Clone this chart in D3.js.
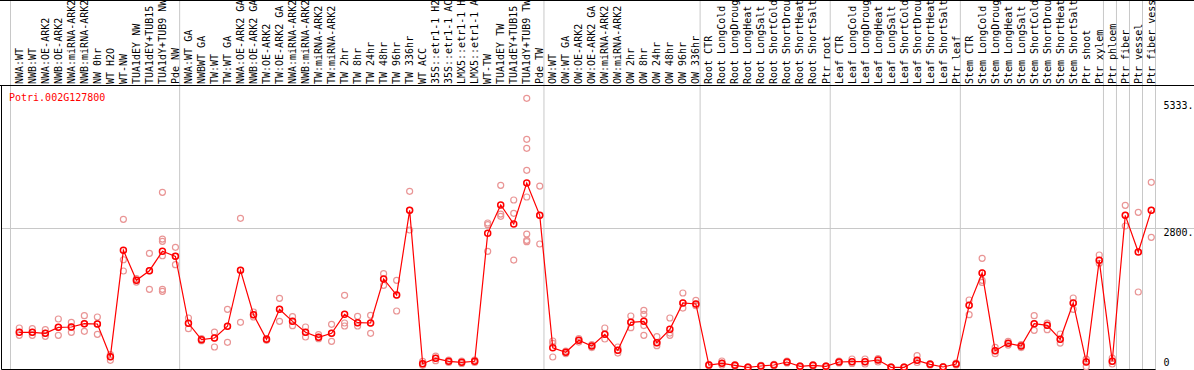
<!DOCTYPE html>
<html>
<head>
<meta charset="utf-8">
<script src="https://cdn.jsdelivr.net/npm/d3@7"></script>
<style>
  body { margin: 0; background: #fff; }
  svg { display: block; }
  text { font-family: "DejaVu Sans Mono", monospace; font-size: 10px; }
</style>
</head>
<body>
<div id="chart"></div>
<script>
var width = 1194, height = 370;

var geneName = 'Potri.002G127800';

// Sample labels, one per column (as far as they fit in the header).
var samples = [
  'NWA:WT', 'NWB:WT', 'NWA:OE-ARK2', 'NWB:OE-ARK2', 'NWA:miRNA-ARK2', 'NWB:miRNA-ARK2',
  'NW 0hr', 'WT H2O', 'WT-NW', 'TUA1dEY NW', 'TUA1dEY+TUB15', 'TUA1dY+TUB9 NW', 'Pde NW',
  'NWA:WT GA', 'NWBWT GA', 'TW:WT', 'TW:WT GA', 'NWA:OE-ARK2 GA', 'NWB:OE-ARK2 GA',
  'TW:OE-ARK2', 'TW:OE-ARK2 GA', 'NWA:miRNA-ARK2', 'NWB:miRNA-ARK2', 'TW:miRNA-ARK2',
  'TW:miRNA-ARK2', 'TW 2hr', 'TW 8hr', 'TW 24hr', 'TW 48hr', 'TW 96hr', 'TW 336hr',
  'WT ACC', '35S::etr1-1 H2', '35S::etr1-1 AC', 'LMX5::etr1-1 H', 'LMX5::etr1-1 A',
  'WT-TW', 'TUA1dEY TW', 'TUA1dEY+TUB15', 'TUA1dY+TUB9 TW', 'Pde TW',
  'OW:WT', 'OW:WT GA', 'OW:OE-ARK2', 'OW:OE-ARK2 GA', 'OW:miRNA-ARK2', 'OW:miRNA-ARK2',
  'OW 2hr', 'OW 8hr', 'OW 24hr', 'OW 48hr', 'OW 96hr', 'OW 336hr',
  'Root CTR', 'Root LongCold', 'Root LongDroug', 'Root LongHeat', 'Root LongSalt',
  'Root ShortCold', 'Root ShortDrou', 'Root ShortHeat', 'Root ShortSalt', 'Ptr root',
  'Leaf CTR', 'Leaf LongCold', 'Leaf LongDroug', 'Leaf LongHeat', 'Leaf LongSalt',
  'Leaf ShortCold', 'Leaf ShortDrou', 'Leaf ShortHeat', 'Leaf ShortSalt', 'Ptr leaf',
  'Stem CTR', 'Stem LongCold', 'Stem LongDroug', 'Stem LongHeat', 'Stem LongSalt',
  'Stem ShortCold', 'Stem ShortDrou', 'Stem ShortHeat', 'Stem ShortSalt', 'Ptr shoot',
  'Ptr xylem', 'Ptr phloem', 'Ptr fiber', 'Ptr vessel', 'Ptr fiber vess'
];

// First sample of each experiment group (a grey separator is drawn before each).
var groupStarts = ['NWA:WT', 'NWA:WT GA', 'OW:WT', 'Root CTR', 'Leaf CTR', 'Stem CTR',
  'Ptr phloem', 'Ptr fiber', 'Ptr vessel', 'Ptr fiber vess'];

// Mean expression per sample.
var means = [
  715, 715, 695, 815, 822, 888, 882, 227, 2359, 1757,
  1950, 2339, 2238, 896, 567, 601, 836, 1958, 1068, 575,
  1176, 935, 715, 615, 695, 1076, 908, 902, 1784, 1463,
  3160, 86, 194, 134, 114, 134, 2699, 3267, 2886, 3707,
  3060, 407, 315, 555, 441, 675, 355, 915, 935, 508,
  775, 1303, 1283, 60, 94, 54, 14, 40, 60, 120,
  34, 54, 34, 120, 126, 126, 160, 14, 14, 154,
  74, 20, 80, 1256, 1904, 347, 495, 441, 888, 855,
  575, 1303, 120, 2158, 134, 3060, 2325, 3160
];

// Individual replicates per sample.
var replicates = [
  [802, 715, 655], [788, 715, 655], [768, 695, 635], [982, 815, 655], [915, 822, 715],
  [1048, 888, 735], [1022, 882, 675], [267, 227, 154], [2980, 2170, 1944], [1790, 1757, 1723],
  [2299, 1950, 1577], [3521, 2585, 2539, 2250, 1577, 1537], [2419, 2238, 2070], [1002, 896, 788], [587, 567, 547],
  [721, 601, 421], [1176, 836, 515], [3000, 1958, 915], [1122, 1068, 1022], [588, 575, 555],
  [1397, 1176, 935], [1029, 935, 848], [822, 715, 621], [668, 615, 588], [875, 695, 535],
  [1457, 902, 842], [1036, 908, 842], [1056, 902, 695], [1890, 1784, 1657], [1757, 1463, 1142],
  [3541, 3160, 2766], [134, 86, 54], [240, 194, 147], [160, 134, 110], [140, 114, 90],
  [160, 134, 110], [2906, 2873, 2339], [3661, 3086, 3040], [3367, 3100, 2164],
  [5405, 4583, 4403, 3962, 3427, 2685, 2559, 2531],
  [3647, 3060, 2485], [541, 495, 220], [340, 315, 290], [588, 555, 520], [470, 441, 410],
  [802, 675, 581], [421, 355, 300], [1042, 915, 808], [1156, 1076, 850, 655], [628, 508, 448],
  [1002, 700, 655], [1503, 1303, 1202], [1357, 1283, 1249], [75, 60, 45], [140, 94, 60],
  [70, 54, 40], [25, 14, 5], [55, 40, 25], [75, 60, 45], [140, 120, 100],
  [45, 34, 20], [70, 54, 40], [45, 34, 20], [140, 120, 100], [180, 126, 90],
  [180, 126, 80], [190, 160, 120], [25, 14, 5], [25, 14, 5], [247, 154, 110],
  [90, 74, 60], [30, 20, 10], [100, 80, 60], [1363, 1256, 1068], [2198, 1904, 1757, 1716],
  [415, 347, 287], [535, 495, 460], [470, 441, 410], [1048, 888, 755], [900, 855, 768],
  [681, 575, 500], [1403, 1303, 1176], [180, 120, 27], [2265, 2158, 2100], [200, 134, 80],
  [3260, 3060, 2846], [3120, 2325, 1523], [3721, 3160, 2619]
];

// Right hand axis.
var yTicks = [0, 2800, 5333.333];
var yTickLabels = ['0', '2800.', '5333.'];

var svg = d3.select('#chart')
    .append('svg')
    .attr('width', width)
    .attr('height', height);

// Columns are keyed by index because some labels repeat.
var x = d3.scaleBand()
    .domain(d3.range(samples.length))
    .range([10.5, 1155.5]);

var y = d3.scaleLinear()
    .domain([0, 2800])
    .range([368, 228.3]);

var px = function(i) { return x(i) + 8.8; };

/////////////////////////
// Grid & frame
var breaks = groupStarts.map(function(d) { return x(samples.indexOf(d)); });
breaks.push(x.range()[1]);

svg.append('g').selectAll('line')
  .data(breaks)
  .enter()
    .append('line')
      .attr('x1', function(d) { return d; })
      .attr('x2', function(d) { return d; })
      .attr('y1', 0)
      .attr('y2', height)
      .attr('stroke', '#c8c8c8')
      .attr('stroke-width', 1);

svg.append('line')
  .attr('x1', 1.5).attr('x2', width)
  .attr('y1', Math.round(y(2800)) + 0.5).attr('y2', Math.round(y(2800)) + 0.5)
  .attr('stroke', '#c8c8c8');

// Frame around the plot area.
svg.append('path')
  .attr('d', 'M0,85.5L' + width + ',85.5'
    + 'M1.5,85.5L1.5,369.5L' + x.range()[1] + ',369.5'
    + 'M0,0.5L' + width + ',0.5')
  .attr('stroke', '#000')
  .attr('stroke-width', 1)
  .attr('fill', 'none');

/////////////////////////
// Sample labels (rotated)
svg.append('g').selectAll('text')
  .data(samples)
  .enter()
    .append('text')
      .text(function(d) { return d; })
      .attr('transform', function(d, i) { return 'translate(' + (x(i) + 12.3) + ',84) rotate(-90)'; })
      .attr('fill', '#000');

// Gene name.
svg.append('text')
  .text(geneName)
  .attr('x', 9)
  .attr('y', 100.5)
  .attr('fill', 'red');

// Axis labels on the right, clamped inside the frame.
svg.append('g').selectAll('text')
  .data(yTicks)
  .enter()
    .append('text')
      .text(function(d, i) { return yTickLabels[i]; })
      .attr('x', 1163.5)
      .attr('y', function(d) { return Math.min(y(d) + 7.5, 365.5); })
      .attr('fill', '#000');

/////////////////////////
// Replicates
var reps = [];
replicates.forEach(function(r, i) {
  r.forEach(function(v) { reps.push({i: i, v: v}); });
});

svg.append('g').selectAll('circle')
  .data(reps)
  .enter()
    .append('circle')
      .attr('cx', function(d) { return px(d.i); })
      .attr('cy', function(d) { return y(d.v); })
      .attr('r', 3)
      .attr('fill', 'none')
      .attr('stroke', '#e99595')
      .attr('stroke-width', 1.2);

// Mean line + markers.
var line = d3.line()
    .x(function(d, i) { return px(i); })
    .y(function(d) { return y(d); });

svg.append('path')
  .datum(means)
  .attr('d', line)
  .attr('fill', 'none')
  .attr('stroke', 'red')
  .attr('stroke-width', 1.2);

svg.append('g').selectAll('circle')
  .data(means)
  .enter()
    .append('circle')
      .attr('cx', function(d, i) { return px(i); })
      .attr('cy', function(d) { return y(d); })
      .attr('r', 3)
      .attr('fill', 'none')
      .attr('stroke', 'red')
      .attr('stroke-width', 1.5);
</script>
</body>
</html>
